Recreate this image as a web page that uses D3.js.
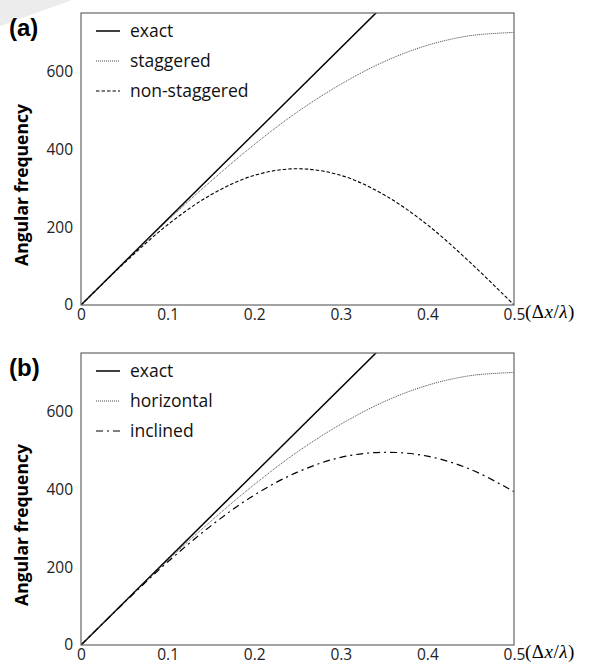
<!DOCTYPE html>
<html>
<head>
<meta charset="utf-8">
<script src="https://cdn.jsdelivr.net/npm/d3@7"></script>
<style>
  body { margin: 0; background: #fff; }
  svg { display: block; }
  .tick text { font-family: 'Open Sans', 'Noto Sans', sans-serif; font-size: 15.5px; fill: #222; }
</style>
</head>
<body>
<svg id="chart" width="589" height="666"></svg>
<script>
// sample positions on the horizontal axis (Δx/λ)
const ratio = [0, 0.05, 0.1, 0.15, 0.2, 0.25, 0.3, 0.35, 0.4, 0.45, 0.5];

// values
const exactX = [0, 0.5];
const exactY = [0, 1101];
const staggered = [0, 110, 217, 318, 412, 496, 567, 625, 667, 692, 700];
const nonStaggered = [0, 108, 206, 283, 333, 350, 333, 283, 206, 108, 0];
const inclined = [0, 109, 213, 306, 385, 444, 482, 495, 485, 451, 394];

const xTicks = [0, 0.1, 0.2, 0.3, 0.4, 0.5];
const yTicks = [0, 200, 400, 600];

const svg = d3.select('#chart');

// faint corner shape from the page behind the figure
svg.append('polygon')
  .attr('points', '0,0 72,0 0,26')
  .style('fill', '#ececec');

const plotLeft = 81, plotRight = 514, plotHeight = 292;

const x = d3.scaleLinear().domain([0, 0.5]).range([plotLeft, plotRight]);

const drawPanel = (top, tag, series, clipId) => {
  const y = d3.scaleLinear().domain([0, 750]).range([top + plotHeight, top]);
  const g = svg.append('g');

  g.append('clipPath')
    .attr('id', clipId)
    .append('rect')
    .attr('x', plotLeft)
    .attr('y', top)
    .attr('width', plotRight - plotLeft)
    .attr('height', plotHeight);

  // axes, tick labels only
  g.append('g')
    .attr('transform', `translate(${plotLeft - 4},0)`)
    .call(d3.axisLeft(y).tickValues(yTicks).tickSize(0).tickPadding(4))
    .call(a => a.select('.domain').remove());

  g.append('g')
    .attr('transform', `translate(0,${top + plotHeight + 2})`)
    .call(d3.axisBottom(x).tickValues(xTicks).tickSize(0).tickPadding(2)
      .tickFormat(d => d === 0 ? '0' : d3.format('.1f')(d)))
    .call(a => a.select('.domain').remove());

  // curves
  const lineGroup = g.append('g').attr('clip-path', `url(#${clipId})`);
  series.forEach(s => {
    const line = d3.line()
      .x((d, i) => x(s.xs[i]))
      .y(d => y(d))
      .curve(d3.curveCatmullRom.alpha(0.5));
    lineGroup.append('path')
      .datum(s.ys)
      .attr('d', line)
      .style('fill', 'none')
      .style('stroke', s.color)
      .style('stroke-width', s.width)
      .style('stroke-dasharray', s.dash);
  });

  // frame
  g.append('rect')
    .attr('x', plotLeft)
    .attr('y', top)
    .attr('width', plotRight - plotLeft)
    .attr('height', plotHeight)
    .style('fill', 'none')
    .style('stroke', '#666')
    .style('stroke-width', 1.2);

  // legend
  series.forEach((s, i) => {
    const ly = top + 18 + i * 30;
    g.append('line')
      .attr('x1', 96).attr('x2', 120)
      .attr('y1', ly).attr('y2', ly)
      .style('stroke', s.color)
      .style('stroke-width', s.width)
      .style('stroke-dasharray', s.dash);
    g.append('text')
      .attr('x', 130)
      .attr('y', ly)
      .attr('dy', '0.35em')
      .style('font-family', "'Open Sans', 'Noto Sans', sans-serif")
      .style('font-size', '17.5px')
      .style('fill', '#111')
      .text(s.name);
  });

  // panel tag
  g.append('text')
    .attr('x', 9)
    .attr('y', top + 23)
    .style('font-family', "'Liberation Sans', Arial, sans-serif")
    .style('font-weight', 'bold')
    .style('font-size', '24px')
    .text(tag);

  // y label
  g.append('text')
    .attr('transform', `translate(28,${top + plotHeight / 2 + 26}) rotate(-90)`)
    .style('text-anchor', 'middle')
    .style('font-family', "'Open Sans', 'Noto Sans', sans-serif")
    .style('font-weight', 'bold')
    .style('font-size', '17.5px')
    .text('Angular frequency');

  // x label (Δx/λ)
  const xl = g.append('text')
    .attr('x', 525)
    .attr('y', top + plotHeight + 13)
    .style('font-family', "'Liberation Serif', 'DejaVu Serif', serif")
    .style('font-size', '19px')
    .style('letter-spacing', '0.5px');
  xl.append('tspan').text('(Δ');
  xl.append('tspan').style('font-style', 'italic').text('x');
  xl.append('tspan').text('/');
  xl.append('tspan').style('font-style', 'italic').text('λ');
  xl.append('tspan').text(')');
};

drawPanel(13, '(a)', [
  {name: 'exact', xs: exactX, ys: exactY, color: '#000', width: 1.5, dash: null},
  {name: 'staggered', xs: ratio, ys: staggered, color: '#444', width: 1, dash: '1,1'},
  {name: 'non-staggered', xs: ratio, ys: nonStaggered, color: '#000', width: 1.1, dash: '3.5,2'}
], 'clip-a');

drawPanel(353, '(b)', [
  {name: 'exact', xs: exactX, ys: exactY, color: '#000', width: 1.5, dash: null},
  {name: 'horizontal', xs: ratio, ys: staggered, color: '#444', width: 1, dash: '1,1'},
  {name: 'inclined', xs: ratio, ys: inclined, color: '#000', width: 1.2, dash: '7,4,2,4'}
], 'clip-b');
</script>
</body>
</html>
